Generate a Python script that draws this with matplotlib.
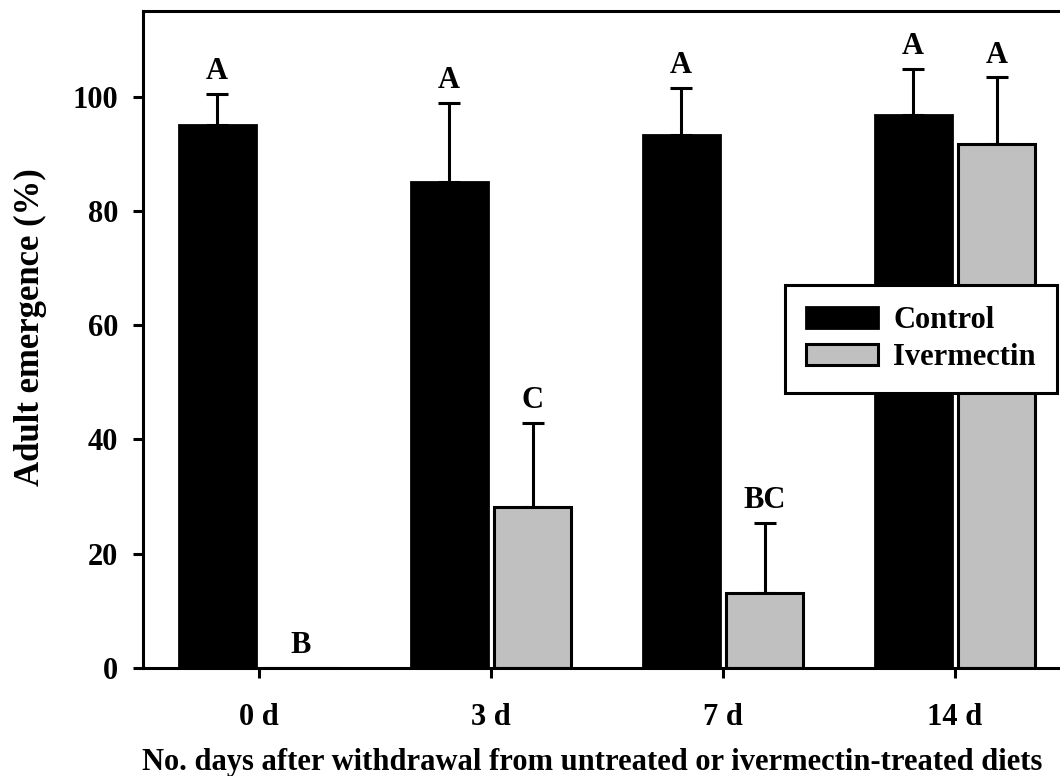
import matplotlib.pyplot as plt
import numpy as np

plt.rcParams['font.family'] = ['Liberation Serif', 'DejaVu Serif']
plt.rcParams['font.weight'] = 'bold'

days = ['0 d', '3 d', '7 d', '14 d']
control = [95.1, 85.0, 93.3, 96.8]
control_err = [5.4, 13.9, 8.3, 8.1]
ivermectin = [0.0, 28.2, 13.2, 91.7]
ivermectin_err = [0.0, 14.7, 12.2, 11.7]
control_letters = ['A', 'A', 'A', 'A']
ivermectin_letters = ['B', 'C', 'BC', 'A']

fs = 22

fig = plt.figure(figsize=(10.6, 7.76), dpi=100)
ax = fig.add_axes([143 / 1060, 1 - 668 / 776, 928 / 1060, 657 / 776])

x = np.arange(len(days))
w = 0.33
off = 0.18

ax.bar(x - off, control, w, color='black', edgecolor='black', linewidth=2,
       label='Control', zorder=2)
ax.bar(x + off, ivermectin, w, color='#c0c0c0', edgecolor='black',
       linewidth=2.2, label='Ivermectin', zorder=2)

for xs, vals, errs in [(x - off, control, control_err),
                       (x + off, ivermectin, ivermectin_err)]:
  for xi, v, e in zip(xs, vals, errs):
    if e > 0:
      ax.errorbar(xi, v, yerr=[[0], [e]], fmt='none', ecolor='black',
                  elinewidth=2.2, capsize=8, capthick=2.2, zorder=1)

for xs, vals, errs, letters in [(x - off, control, control_err, control_letters),
                                (x + off, ivermectin, ivermectin_err, ivermectin_letters)]:
  for xi, v, e, lab in zip(xs, vals, errs, letters):
    ax.annotate(lab, (xi, v + e), xytext=(0, 16), textcoords='offset points',
                ha='center', va='center', fontsize=fs, fontweight='bold')

ax.set_xlim(-0.5, 3.5)
ax.set_ylim(0, 115)
ax.set_yticks([0, 20, 40, 60, 80, 100])
ax.set_xticks(x)
ax.set_xticklabels(days)
ax.tick_params(direction='out', length=7, width=2.2, labelsize=fs)
ax.tick_params(axis='y', pad=11)
ax.tick_params(axis='x', pad=18)
for s in ax.spines.values():
  s.set_linewidth(2.2)

ax.set_ylabel('Adult emergence (%)', fontsize=25, fontweight='bold')
ax.yaxis.set_label_coords(-0.103, 0.519)
ax.set_xlabel('No. days after withdrawal from untreated or ivermectin-treated diets',
              fontsize=fs, fontweight='bold')
ax.xaxis.set_label_coords(0.484, -0.122)

leg = ax.legend(loc='upper left', bbox_to_anchor=(785 / 1060, 1 - 285 / 776),
                bbox_transform=fig.transFigure, borderaxespad=0,
                fontsize=fs, frameon=True, fancybox=False, edgecolor='black',
                framealpha=1, handlelength=2.35, handleheight=0.7,
                handletextpad=0.5, borderpad=0.7, labelspacing=0.25)
leg.get_frame().set_linewidth(2.2)
leg.set_zorder(5)

fig.savefig('out.png', dpi=100)
